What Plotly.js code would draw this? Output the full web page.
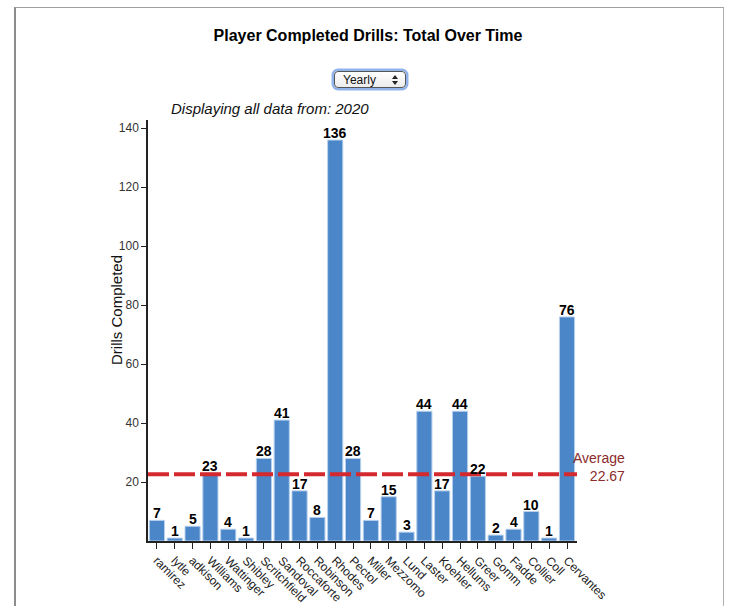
<!DOCTYPE html>
<html>
<head>
<meta charset="utf-8">
<script src="https://cdn.plot.ly/plotly-3.0.1.min.js"></script>
<style>
  html, body { margin: 0; padding: 0; background: #fff; }
  #wrap { position: relative; width: 736px; height: 606px; overflow: hidden; }
  #frame { position: absolute; left: 14px; top: 7px; width: 710px; height: 640px;
           border-left: 2px solid #8c8c8c; border-top: 1px solid #a0a0a0; border-right: 1px solid #b0b0b0; box-sizing: border-box; pointer-events: none; z-index: 2; }
  #chart { position: absolute; left: 0; top: 0; width: 736px; height: 606px; }
  #sel { position: absolute; left: 334px; top: 71px; width: 72px; height: 17px; z-index: 3;
         border: 1px solid #555; border-radius: 4px; box-shadow: 0 0 0 2.5px #8fb3ea;
         background: linear-gradient(#ffffff, #ececec); font-family: "Liberation Sans", Arial, sans-serif;
         font-size: 12px; line-height: 16px; color: #111; box-sizing: border-box; }
  #sel span.t { position: absolute; left: 8px; top: 0px; }
  #sel i.up { position: absolute; right: 7px; top: 3px; width: 0; height: 0;
              border-left: 3px solid transparent; border-right: 3px solid transparent; border-bottom: 4px solid #222; }
  #sel i.dn { position: absolute; right: 7px; top: 9px; width: 0; height: 0;
              border-left: 3px solid transparent; border-right: 3px solid transparent; border-top: 4px solid #222; }
</style>
</head>
<body>
<div id="wrap">
  <div id="chart"></div>
  <div id="frame"></div>
  <div id="sel"><span class="t" id="selText"></span><i class="up"></i><i class="dn"></i></div>
</div>
<script>
const players = ["ramirez","lytle","adkison","Williams","Wattinger","Shibley","Scritchfield","Sandoval","Roccaforte","Robinson","Rhodes","Pectol","Miller","Mezzomo","Lund","Laster","Koehler","Hellums","Greer","Gomm","Fadde","Collier","Coll","Cervantes"];
const drills = [7,1,5,23,4,1,28,41,17,8,136,28,7,15,3,44,17,44,22,2,4,10,1,76];
const yTicks = [20,40,60,80,100,120,140];
const titleText = "Player Completed Drills: Total Over Time";
const subtitleText = "Displaying all data from: 2020";
const yTitleText = "Drills Completed";
const periodLabel = "Yearly";

document.getElementById("selText").textContent = periodLabel;

const avg = drills.reduce((a,b)=>a+b,0) / drills.length;
const yMax = Math.max(...drills) * 1.05;

const font = "Liberation Sans, Arial, Helvetica, sans-serif";

const trace = {
  type: "bar",
  x: players,
  y: drills,
  cliponaxis: false,
  marker: { color: "#4a86c8", line: { color: "#b6d0ee", width: 1 } },
  hoverinfo: "x+y"
};

const barLabels = players.map((p, i) => ({
  text: "<b>" + drills[i] + "</b>", xref: "x", x: p, yref: "y", y: drills[i],
  xanchor: "center", yanchor: "bottom", yshift: -3, showarrow: false,
  font: { family: font, size: 14, color: "#000" }
}));

const layout = {
  width: 736, height: 606,
  margin: { l: 148, r: 159, t: 120, b: 65 },
  paper_bgcolor: "#ffffff", plot_bgcolor: "#ffffff",
  showlegend: false,
  bargap: 0.15,
  font: { family: font, color: "#333" },
  title: { text: "<b>" + titleText + "</b>", x: 0.5, xref: "container", y: 1 - 35/606, yref: "container", yanchor: "middle",
           font: { family: font, size: 16, color: "#000" } },
  xaxis: {
    type: "category",
    showline: true, linecolor: "#222", linewidth: 1.5,
    ticks: "outside", ticklen: 6, tickcolor: "#222", tickwidth: 1,
    tickangle: 45,
    tickfont: { family: font, size: 12, color: "#222" },
    showgrid: false, zeroline: false, fixedrange: true
  },
  yaxis: {
    range: [0, yMax],
    tickvals: yTicks,
    showline: true, linecolor: "#222", linewidth: 1.5,
    ticks: "outside", ticklen: 5, tickcolor: "#222", tickwidth: 1,
    tickfont: { family: font, size: 12, color: "#333" },
    showgrid: false, zeroline: false, fixedrange: true
  },
  shapes: [{
    type: "line", xref: "paper", x0: 0, x1: 1, yref: "y", y0: avg, y1: avg,
    line: { color: "#d42a2f", width: 4, dash: "21px,5px" }, layer: "above"
  }],
  annotations: barLabels.concat([
    { text: "Average<br>" + avg.toFixed(2), xref: "paper", x: (627-148)/429, xanchor: "right", align: "right",
      yref: "y", y: avg, yanchor: "middle", yshift: 7, showarrow: false,
      font: { family: font, size: 14, color: "#8c2b2b" } },
    { text: "<i>" + subtitleText + "</i>", xref: "paper", x: (169-148)/429, xanchor: "left",
      yref: "paper", y: (541-109)/421, yanchor: "middle", showarrow: false,
      font: { family: font, size: 15, color: "#111" } },
    { text: yTitleText, xref: "paper", x: (116-148)/429, xanchor: "center",
      yref: "paper", y: (541-310)/421, yanchor: "middle", textangle: -90, showarrow: false,
      font: { family: font, size: 15, color: "#111" } }
  ])
};

Plotly.newPlot("chart", [trace], layout, { displayModeBar: false });
</script>
</body>
</html>
